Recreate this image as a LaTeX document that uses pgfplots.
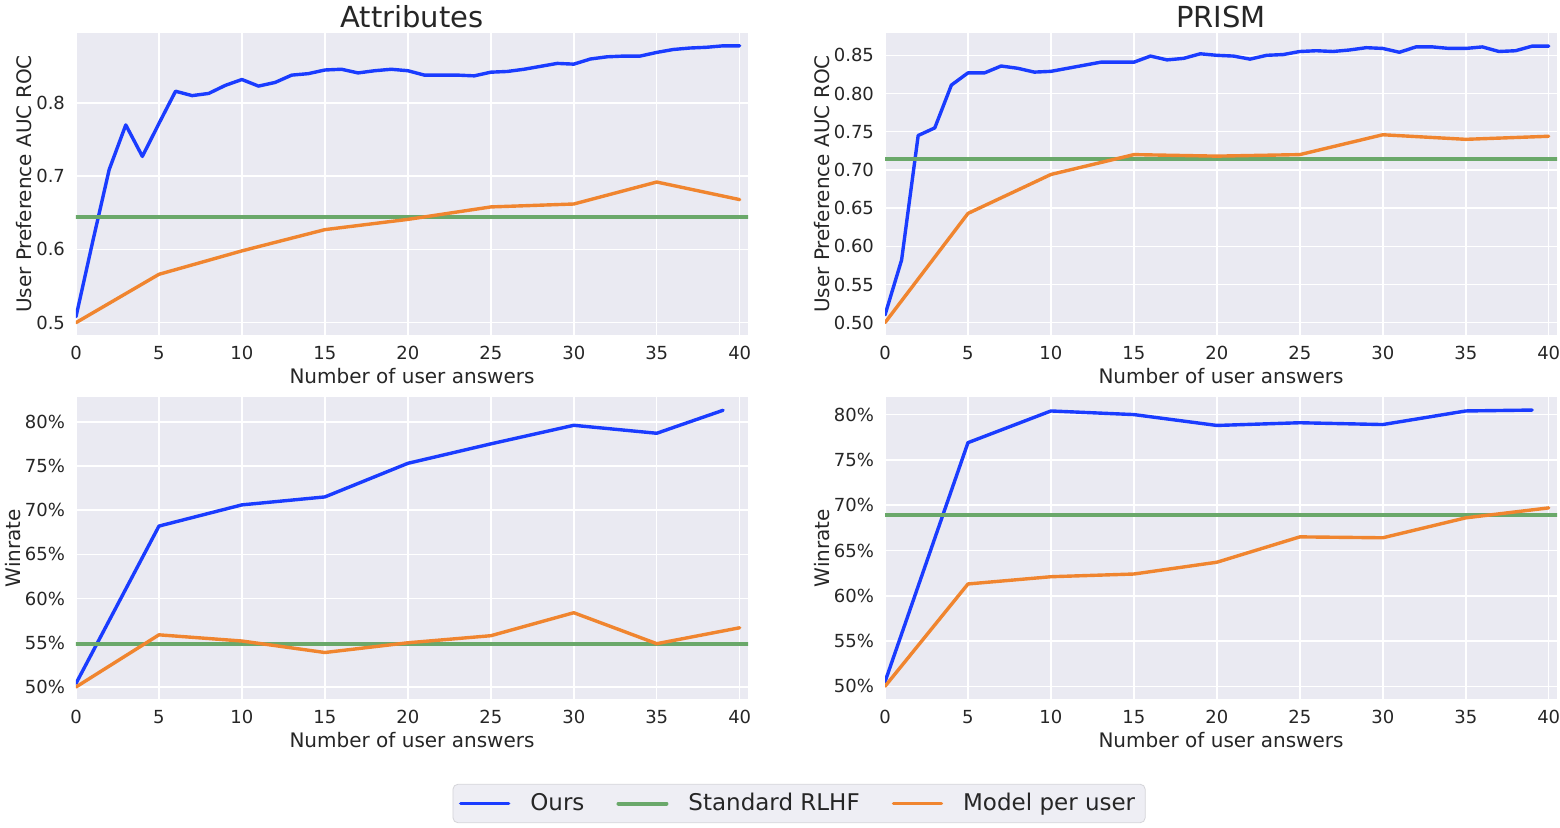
\documentclass[border=0pt]{standalone}
\usepackage{fontspec}
\setmainfont{DejaVu Sans}
\usepackage{pgfplots}
\pgfplotsset{compat=1.18}

\definecolor{bgc}{HTML}{EAEAF2}
\definecolor{txt}{HTML}{262626}
\definecolor{cblue}{HTML}{1A3CFF}
\definecolor{cgreen}{HTML}{6AA86A}
\definecolor{corange}{HTML}{F0852F}
\definecolor{legfill}{HTML}{EEEEF4}
\definecolor{legedge}{HTML}{D4D4D8}

\pgfplotsset{
  panel/.style={
    scale only axis, width=336pt, height=151pt,
    axis background/.style={fill=bgc},
    axis line style={draw=none},
    major tick length=0pt,
    grid=major, grid style={white, line width=0.75pt},
    xmin=0, xmax=40.5, xtick={0,5,...,40},
    tick label style={font=\fontsize{9}{10}\selectfont, text=txt},
    /pgf/number format/assume math mode=true,
    xticklabel style={anchor=base, yshift=-12pt},
    yticklabel style={anchor=east, xshift=-2pt},
    xlabel={Number of user answers},
    xlabel style={font=\fontsize{10}{12}\selectfont, text=txt,
      at={(axis description cs:0.5,0)}, anchor=base, yshift=-24pt},
    ylabel style={font=\fontsize{10}{12}\selectfont, text=txt, rotate=0},
    title style={font=\fontsize{14.5}{16}\selectfont, text=txt,
      at={(axis description cs:0.5,1)}, anchor=base, yshift=-3pt},
    every axis plot/.append style={line join=round, line cap=round},
  },
  ours/.style={color=cblue, line width=1.7pt},
  rlhf/.style={color=cgreen, line width=2pt},
  mpu/.style={color=corange, line width=1.7pt},
}

\begin{document}
\begin{tikzpicture}
\useasboundingbox (0,0) rectangle (780pt,-413.5pt);

% Attributes, AUC ROC
\begin{axis}[panel, at={(38pt,-16.5pt)}, anchor=north west,
    title={Attributes},
    ymin=0.4831, ymax=0.8955,
    ytick={0.5,0.6,0.7,0.8}, yticklabels={0.5,0.6,0.7,0.8},
    ylabel={User Preference AUC ROC},
    ylabel style={at={(axis description cs:-0.0655,0.5)}, anchor=base}]
\addplot[ours] coordinates {
 (0,0.508)(1,0.610)(2,0.709)(3,0.770)(4,0.727)(5,0.772)(6,0.816)(7,0.810)
 (8,0.813)(9,0.824)(10,0.832)(11,0.823)(12,0.828)(13,0.838)(14,0.840)
 (15,0.845)(16,0.846)(17,0.841)(18,0.844)(19,0.846)(20,0.844)(21,0.838)
 (22,0.838)(23,0.838)(24,0.837)(25,0.842)(26,0.843)(27,0.846)(28,0.850)
 (29,0.854)(30,0.853)(31,0.860)(32,0.863)(33,0.864)(34,0.864)(35,0.869)
 (36,0.873)(37,0.875)(38,0.876)(39,0.878)(40,0.878)};
\addplot[rlhf] coordinates {(0,0.644)(40.5,0.644)};
\addplot[mpu] coordinates {
 (0,0.500)(5,0.566)(10,0.598)(15,0.627)(20,0.641)(25,0.658)(30,0.662)
 (35,0.692)(40,0.668)};
\end{axis}

% PRISM, AUC ROC
\begin{axis}[panel, at={(442.5pt,-16.5pt)}, anchor=north west,
    title={PRISM},
    ymin=0.4838, ymax=0.8792,
    ytick={0.50,0.55,0.60,0.65,0.70,0.75,0.80,0.85},
    yticklabels={0.50,0.55,0.60,0.65,0.70,0.75,0.80,0.85},
    ylabel={User Preference AUC ROC},
    ylabel style={at={(axis description cs:-0.0833,0.5)}, anchor=base}]
\addplot[ours] coordinates {
 (0,0.510)(1,0.582)(2,0.745)(3,0.755)(4,0.811)(5,0.827)(6,0.827)(7,0.836)
 (8,0.833)(9,0.828)(10,0.829)(11,0.833)(12,0.837)(13,0.841)(14,0.841)
 (15,0.841)(16,0.849)(17,0.844)(18,0.846)(19,0.852)(20,0.850)(21,0.849)
 (22,0.845)(23,0.850)(24,0.851)(25,0.855)(26,0.856)(27,0.855)(28,0.857)
 (29,0.860)(30,0.859)(31,0.854)(32,0.861)(33,0.861)(34,0.859)(35,0.859)
 (36,0.861)(37,0.855)(38,0.856)(39,0.862)(40,0.862)};
\addplot[rlhf] coordinates {(0,0.714)(40.5,0.714)};
\addplot[mpu] coordinates {
 (0,0.500)(5,0.643)(10,0.694)(15,0.720)(20,0.718)(25,0.720)(30,0.746)
 (35,0.740)(40,0.744)};
\end{axis}

% Attributes, winrate
\begin{axis}[panel, at={(38pt,-198.5pt)}, anchor=north west,
    ymin=48.64, ymax=82.8,
    ytick={50,55,60,65,70,75,80},
    yticklabels={50\%,55\%,60\%,65\%,70\%,75\%,80\%},
    ylabel={Winrate},
    ylabel style={at={(axis description cs:-0.0833,0.5)}, anchor=base},
    legend columns=3,
    legend image code/.code={\draw[#1] (0pt,0pt) -- (24pt,0pt);},
    legend style={at={(axis description cs:1.076,-0.346)}, anchor=center,
      draw=legedge, fill=legfill, rounded corners=2.5pt,
      font=\fontsize{11.5}{14}\selectfont, text=txt,
      inner xsep=3pt, inner ysep=2.5pt,
      /tikz/every odd column/.append style={column sep=8pt},
      /tikz/every even column/.append style={column sep=14pt}}]
\addplot[ours] coordinates {
 (0,50.4)(5,68.2)(10,70.6)(15,71.5)(20,75.3)(25,77.5)(30,79.6)(35,78.7)(39,81.3)};
\addlegendentry{Ours}
\addplot[rlhf] coordinates {(0,54.86)(40.5,54.86)};
\addlegendentry{Standard RLHF}
\addplot[mpu] coordinates {
 (0,50.0)(5,55.9)(10,55.2)(15,53.9)(20,55.0)(25,55.8)(30,58.4)(35,54.9)(40,56.7)};
\addlegendentry{Model per user}
\end{axis}

% PRISM, winrate
\begin{axis}[panel, at={(442.5pt,-198.5pt)}, anchor=north west,
    ymin=48.6, ymax=81.94,
    ytick={50,55,60,65,70,75,80},
    yticklabels={50\%,55\%,60\%,65\%,70\%,75\%,80\%},
    ylabel={Winrate},
    ylabel style={at={(axis description cs:-0.0833,0.5)}, anchor=base}]
\addplot[ours] coordinates {
 (0,50.5)(5,76.9)(10,80.4)(15,80.0)(20,78.8)(25,79.1)(30,78.9)(35,80.4)(39,80.5)};
\addplot[rlhf] coordinates {(0,68.9)(40.5,68.9)};
\addplot[mpu] coordinates {
 (0,50.0)(5,61.3)(10,62.1)(15,62.4)(20,63.7)(25,66.5)(30,66.4)(35,68.6)(40,69.7)};
\end{axis}
\end{tikzpicture}
\end{document}
